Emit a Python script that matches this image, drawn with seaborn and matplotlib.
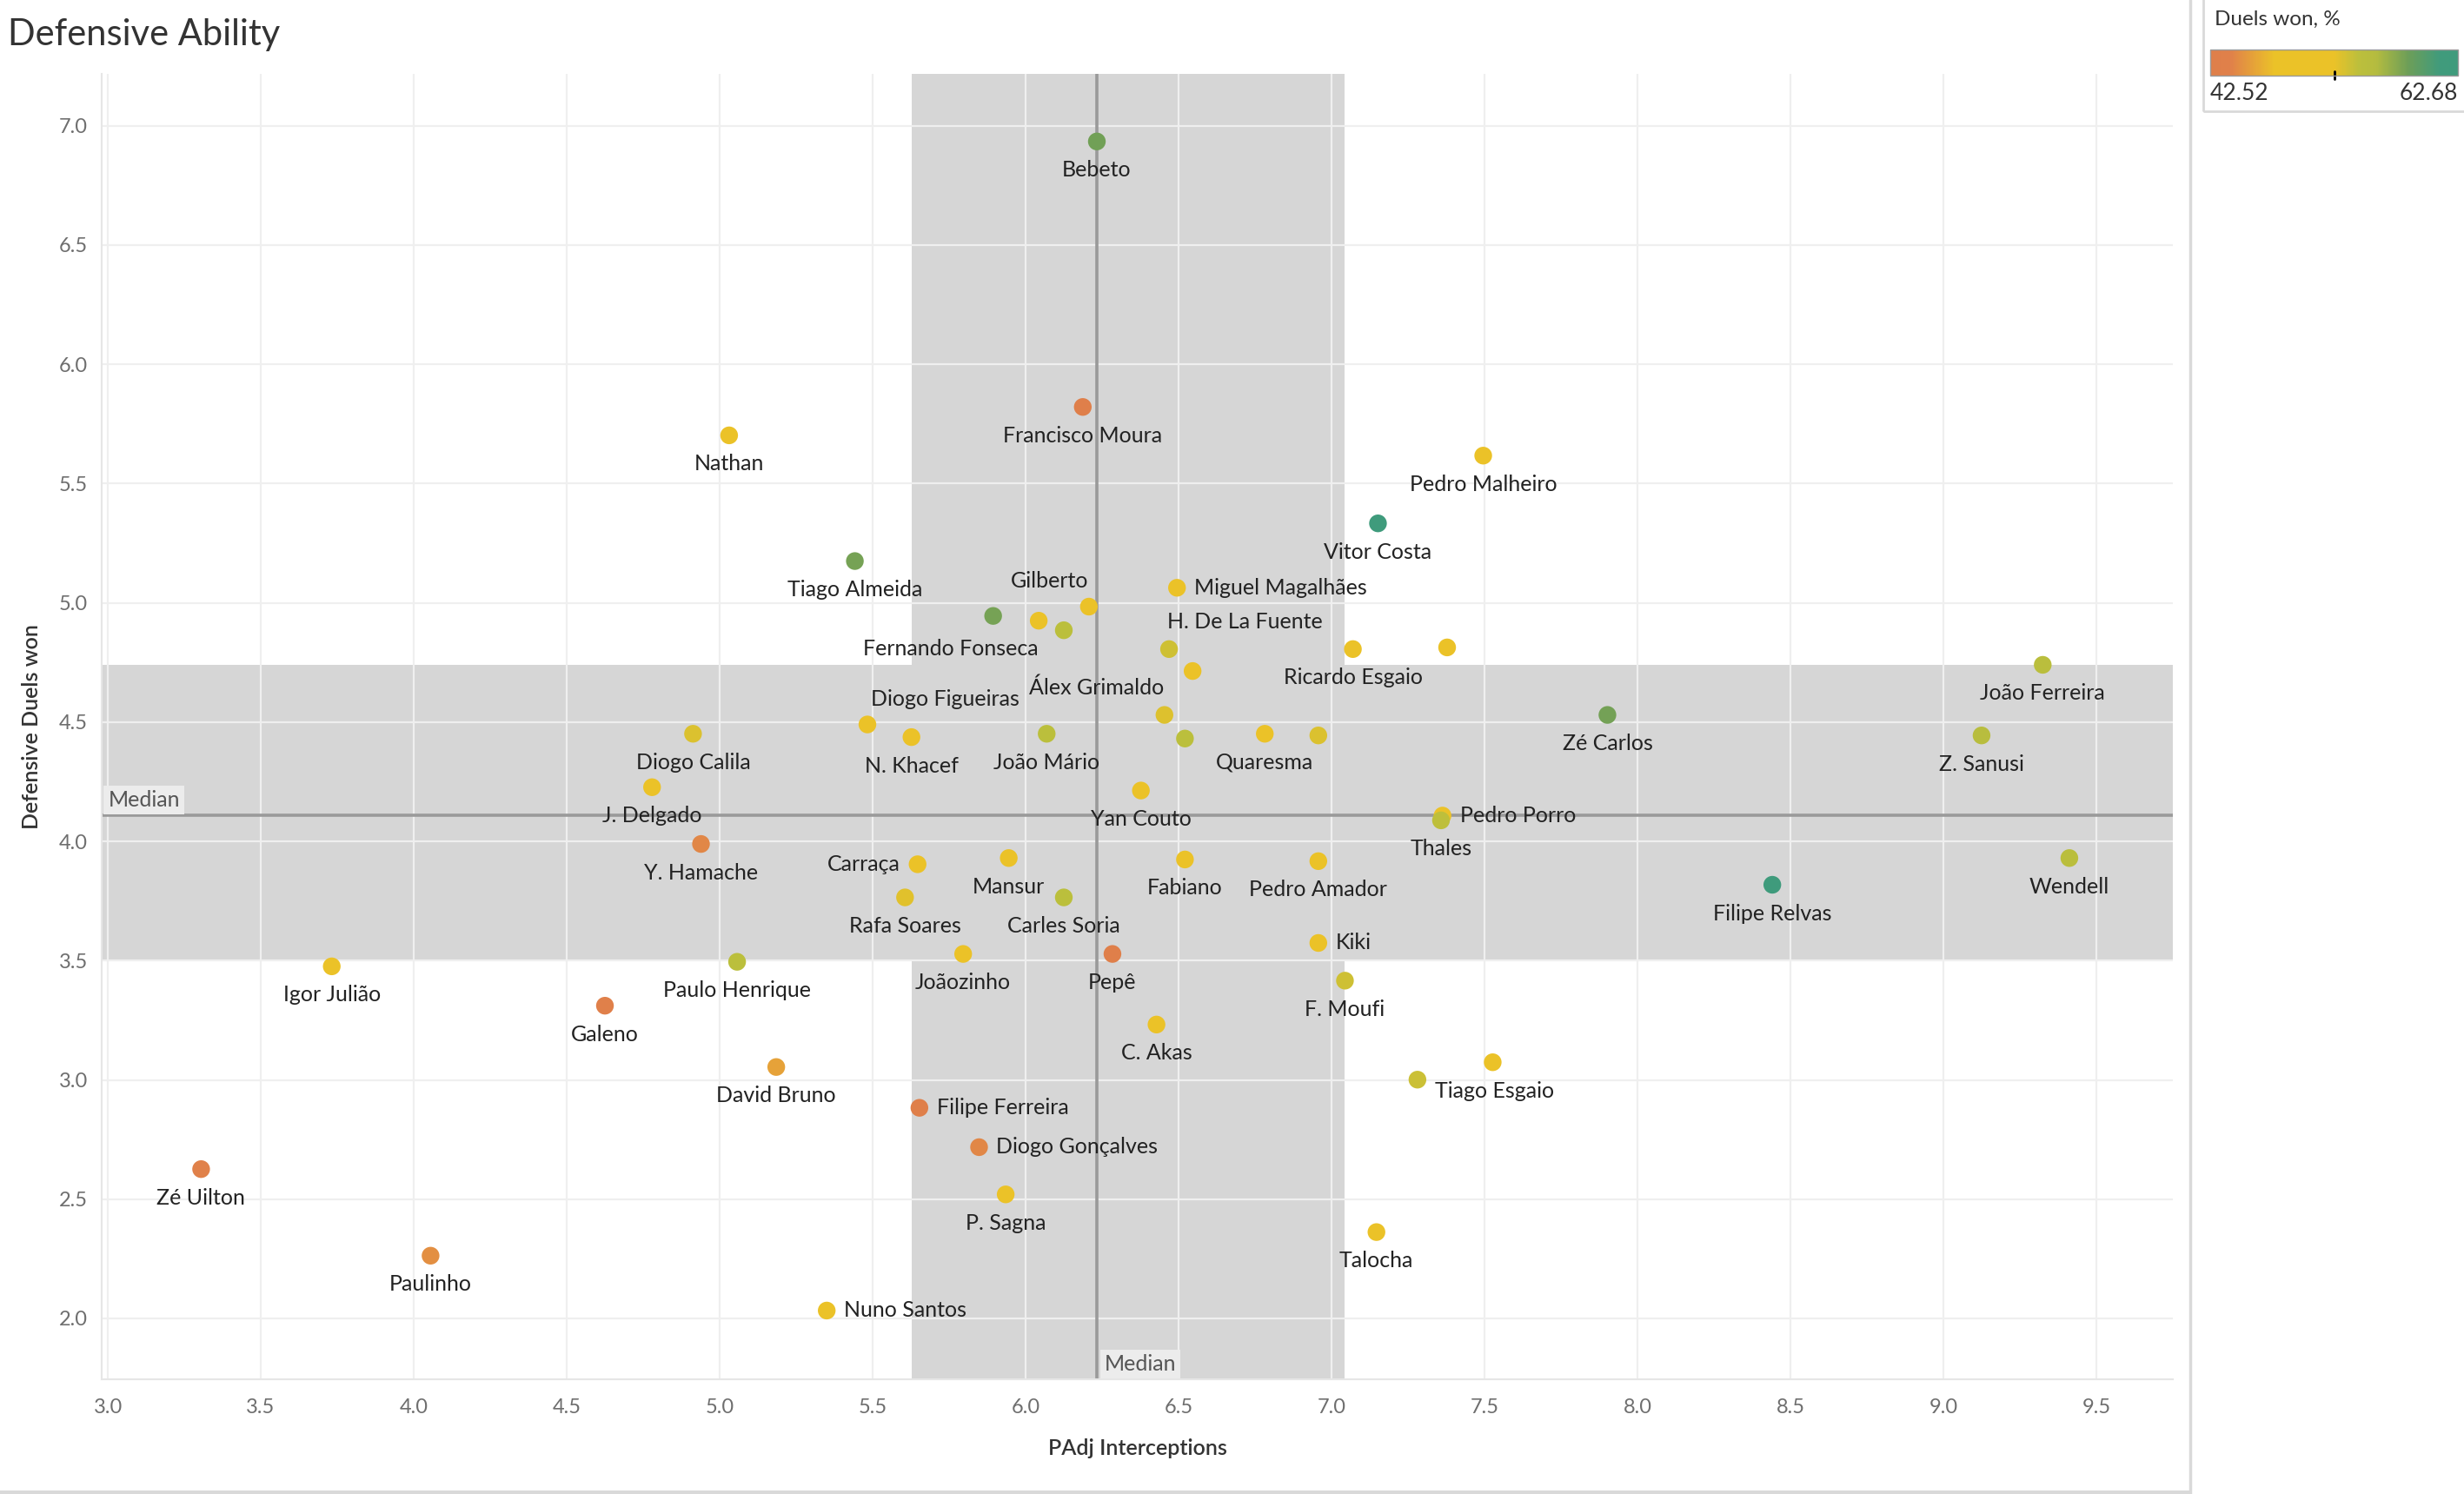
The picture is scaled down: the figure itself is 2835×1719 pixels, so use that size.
import numpy as np
import pandas as pd
import matplotlib
matplotlib.use("Agg")
import matplotlib.pyplot as plt
import matplotlib.transforms as mtransforms
import seaborn as sns
from matplotlib.colors import LinearSegmentedColormap, Normalize
from matplotlib.cm import ScalarMappable
from matplotlib.lines import Line2D
from matplotlib.patches import Rectangle

# Data ("" = point whose label is hidden)
players = [
    "Bebeto", "Francisco Moura", "Nathan", "Pedro Malheiro", "Vitor Costa",
    "Tiago Almeida", "Fernando Fonseca", "", "", "Gilberto",
    "Miguel Magalhães", "H. De La Fuente", "", "Ricardo Esgaio", "",
    "João Ferreira", "Zé Carlos", "Z. Sanusi", "Diogo Figueiras", "N. Khacef",
    "Diogo Calila", "João Mário", "Álex Grimaldo", "", "Quaresma",
    "", "J. Delgado", "Yan Couto", "Pedro Porro", "Thales",
    "Y. Hamache", "Carraça", "Mansur", "Fabiano", "Pedro Amador",
    "Rafa Soares", "Carles Soria", "Filipe Relvas", "Wendell", "Kiki",
    "Igor Julião", "Paulo Henrique", "Joãozinho", "Pepê", "F. Moufi",
    "Galeno", "C. Akas", "David Bruno", "", "Tiago Esgaio",
    "Filipe Ferreira", "Diogo Gonçalves", "Zé Uilton", "P. Sagna", "Talocha",
    "Paulinho", "Nuno Santos",
]
interceptions = [
    6.233, 6.187, 5.031, 7.496, 7.152,
    5.442, 5.894, 6.043, 6.125, 6.207,
    6.495, 6.469, 6.546, 7.070, 7.378,
    9.325, 7.902, 9.125, 5.483, 5.627,
    4.913, 6.069, 6.454, 6.521, 6.782,
    6.957, 4.779, 6.377, 7.363, 7.358,
    4.939, 5.647, 5.945, 6.521, 6.957,
    5.606, 6.125, 8.441, 9.412, 6.957,
    3.732, 5.057, 5.796, 6.284, 7.044,
    4.625, 6.428, 5.185, 7.527, 7.281,
    5.653, 5.848, 3.305, 5.935, 7.147,
    4.055, 5.350,
]
def_duels = [
    6.934, 5.821, 5.702, 5.617, 5.333,
    5.175, 4.945, 4.925, 4.885, 4.984,
    5.063, 4.806, 4.714, 4.806, 4.813,
    4.740, 4.530, 4.444, 4.490, 4.437,
    4.451, 4.451, 4.530, 4.431, 4.451,
    4.444, 4.227, 4.213, 4.108, 4.088,
    3.989, 3.904, 3.930, 3.924, 3.917,
    3.765, 3.765, 3.818, 3.930, 3.574,
    3.476, 3.495, 3.528, 3.528, 3.416,
    3.311, 3.232, 3.054, 3.074, 3.001,
    2.883, 2.718, 2.626, 2.520, 2.362,
    2.263, 2.033,
]
duels_won = [
    58.5, 43.0, 50.0, 50.0, 62.68,
    58.3, 58.3, 50.5, 54.8, 50.5,
    50.0, 53.8, 50.0, 50.0, 50.0,
    55.0, 58.4, 55.5, 50.0, 50.0,
    53.3, 54.8, 53.2, 54.8, 50.0,
    53.3, 50.0, 50.0, 50.0, 54.5,
    44.5, 50.0, 50.0, 50.0, 50.0,
    53.0, 54.8, 62.3, 55.0, 50.0,
    50.0, 54.8, 50.0, 43.0, 53.8,
    44.0, 50.0, 46.0, 50.0, 54.0,
    42.52, 44.5, 44.2, 50.0, 50.0,
    45.0, 50.0,
]

# reference lines / bands as shown in the chart
x_median = 6.233
x_band = (5.627, 7.044)
y_median = 4.108
y_band = (3.502, 4.740)
duels_range = (42.52, 62.68)

colour_stops = [
    (0.00, "#df7f4a"), (0.08, "#e0804a"), (0.26, "#ebc228"), (0.50, "#ebc228"),
    (0.60, "#bcbf3c"), (0.67, "#b5bc3f"), (0.80, "#6d9e58"), (0.93, "#409b7c"),
    (1.00, "#3f9b7c"),
]

# labels that are not centred under their mark: (dx, dy) in pixels, ha
label_offsets = {
    "Fernando Fonseca": (-49, -38, "center"),
    "Gilberto": (-45, 29, "center"),
    "Miguel Magalhães": (20, 0, "left"),
    "H. De La Fuente": (87, 31, "center"),
    "Álex Grimaldo": (-78, 31, "center"),
    "Diogo Figueiras": (89, 29, "center"),
    "Pedro Porro": (20, 0, "left"),
    "Carraça": (-20, 0, "right"),
    "Kiki": (20, 0, "left"),
    "Filipe Ferreira": (20, 0, "left"),
    "Diogo Gonçalves": (20, 0, "left"),
    "Nuno Santos": (20, 0, "left"),
    "Tiago Esgaio": (20, -13, "left"),
}

df = pd.DataFrame({"player": players, "interceptions": interceptions,
                   "def_duels": def_duels, "duels_won": duels_won})

sns.set_style("white")
plt.rcParams["font.family"] = ["Lato", "DejaVu Sans"]

cmap = LinearSegmentedColormap.from_list("duels", colour_stops)
norm = Normalize(*duels_range)

fig = plt.figure(figsize=(28.35, 17.19), dpi=100)
ax = fig.add_axes([0.0414, 0.0768, 0.8404, 0.8737])

# bands and medians
ax.axvspan(*x_band, color="#d6d6d6", lw=0, zorder=0.1)
ax.axhspan(*y_band, color="#d6d6d6", lw=0, zorder=0.1)
ax.grid(True, color="#efefef", lw=1.6, zorder=0.2)
ax.set_axisbelow(True)
ax.axvline(x_median, color="#9a9a9a", lw=2.6, zorder=1)
ax.axhline(y_median, color="#9a9a9a", lw=2.6, zorder=1)

sns.scatterplot(data=df, x="interceptions", y="def_duels", hue="duels_won",
                palette=cmap, hue_norm=norm, s=215, linewidth=0, legend=False,
                ax=ax, zorder=3)

for _, r in df.iterrows():
    if not r["player"]:
        continue
    dx, dy, ha = label_offsets.get(r["player"], (0, -33, "center"))
    ax.annotate(r["player"], (r["interceptions"], r["def_duels"]),
                xytext=(dx, dy), textcoords="offset pixels", ha=ha, va="center",
                fontsize=18, color="#222222", zorder=4)

ax.set_xlim(2.981, 9.75)
ax.set_ylim(1.745, 7.217)
ax.set_xticks(np.arange(3.0, 9.51, 0.5))
ax.set_yticks(np.arange(2.0, 7.01, 0.5))
ax.xaxis.set_major_formatter(matplotlib.ticker.FormatStrFormatter("%.1f"))
ax.yaxis.set_major_formatter(matplotlib.ticker.FormatStrFormatter("%.1f"))
ax.tick_params(axis="both", labelsize=17, labelcolor="#6e6e6e", color="#e0e0e0",
               length=5, width=1)
ax.tick_params(axis="x", pad=11)
ax.tick_params(axis="y", pad=7)
for side in ["top", "right"]:
    ax.spines[side].set_visible(False)
for side in ["left", "bottom"]:
    ax.spines[side].set_color("#e6e6e6")
    ax.spines[side].set_linewidth(1.5)

ax.set_xlabel("PAdj Interceptions", fontsize=18, color="#333333",
              fontweight="semibold", labelpad=18)
ax.set_ylabel("Defensive Duels won", fontsize=18, color="#333333",
              fontweight="semibold", labelpad=14)

# "Median" tags
trans = mtransforms.blended_transform_factory(ax.transAxes, ax.transData)
ax.annotate("Median", (0, y_median), xycoords=trans, xytext=(7, 6),
            textcoords="offset pixels", ha="left", va="bottom", fontsize=18,
            color="#555555", zorder=2,
            bbox=dict(boxstyle="square,pad=0.2", fc="#ececec", ec="none"))
trans2 = mtransforms.blended_transform_factory(ax.transData, ax.transAxes)
ax.annotate("Median", (x_median, 0), xycoords=trans2, xytext=(9, 6),
            textcoords="offset pixels", ha="left", va="bottom", fontsize=18,
            color="#555555", zorder=2,
            bbox=dict(boxstyle="square,pad=0.2", fc="#ececec", ec="none"))

fig.text(0.0032, 0.9767, "Defensive Ability", fontsize=30, color="#333333",
         ha="left", va="center")

# colour legend
fig.add_artist(Rectangle((0.8942, 0.9255), 0.12, 0.09, transform=fig.transFigure,
                         fill=False, ec="#d9d9d9", lw=2))
fig.text(0.8988, 0.9872, "Duels won, %", fontsize=17.5, color="#333333",
         ha="left", va="center")
cax = fig.add_axes([0.897, 0.9494, 0.1005, 0.01745])
cb = fig.colorbar(ScalarMappable(norm=norm, cmap=cmap), cax=cax,
                  orientation="horizontal")
cb.set_ticks([])
cb.outline.set_edgecolor("#999999")
cb.outline.set_linewidth(1)
cax.plot([52.66, 52.66], [-0.15, 0.15], color="black", lw=2, clip_on=False,
         transform=mtransforms.blended_transform_factory(cax.transData, cax.transAxes))
fig.text(0.897, 0.9372, "42.52", fontsize=19, color="#333333", ha="left", va="center")
fig.text(0.9975, 0.9372, "62.68", fontsize=19, color="#333333", ha="right", va="center")

# dashboard frame lines
fig.add_artist(Line2D([0.8889, 0.8889], [0, 1], transform=fig.transFigure,
                      color="#d9d9d9", lw=2.5))
fig.add_artist(Line2D([0, 0.8889], [0.0012, 0.0012], transform=fig.transFigure,
                      color="#d9d9d9", lw=3))

fig.savefig("out.png", dpi=100, facecolor="white")
